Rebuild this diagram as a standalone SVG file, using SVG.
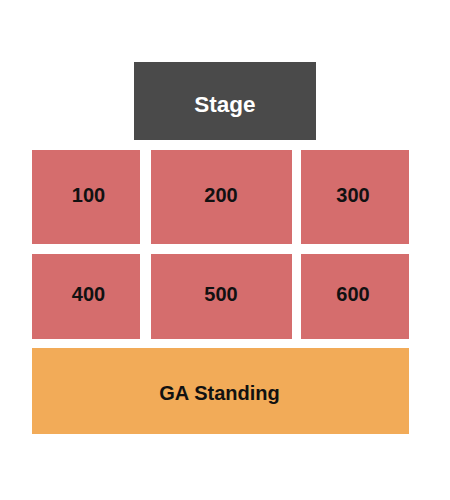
<svg xmlns="http://www.w3.org/2000/svg" width="450" height="500" viewBox="0 0 450 500">
<style>
.sec{fill:#d56d6d}
.ga{fill:#f2ab58}
.stage{fill:#4a4a4a}
text{font-family:"Liberation Sans",Arial,sans-serif;font-weight:bold;text-anchor:middle}
.lbl{font-size:20px;fill:#111}
.slbl{font-size:22.5px;fill:#fff}
</style>
<rect width="450" height="500" fill="#fff"/>
<g id="stage"><rect class="stage" x="134" y="62" width="182" height="78"/><text class="slbl" x="225" y="112">Stage</text></g>
<g id="s100"><rect class="sec" x="32" y="150" width="108" height="94"/><text class="lbl" x="88.5" y="202">100</text></g>
<g id="s200"><rect class="sec" x="151" y="150" width="141" height="94"/><text class="lbl" x="221" y="202">200</text></g>
<g id="s300"><rect class="sec" x="301" y="150" width="108" height="94"/><text class="lbl" x="353" y="202">300</text></g>
<g id="s400"><rect class="sec" x="32" y="254" width="108" height="85"/><text class="lbl" x="88.5" y="301">400</text></g>
<g id="s500"><rect class="sec" x="151" y="254" width="141" height="85"/><text class="lbl" x="221" y="301">500</text></g>
<g id="s600"><rect class="sec" x="301" y="254" width="108" height="85"/><text class="lbl" x="353" y="301">600</text></g>
<g id="ga"><rect class="ga" x="32" y="348" width="377" height="86"/><text class="lbl" x="219.5" y="400">GA Standing</text></g>
<g id="connectors"/>
</svg>
